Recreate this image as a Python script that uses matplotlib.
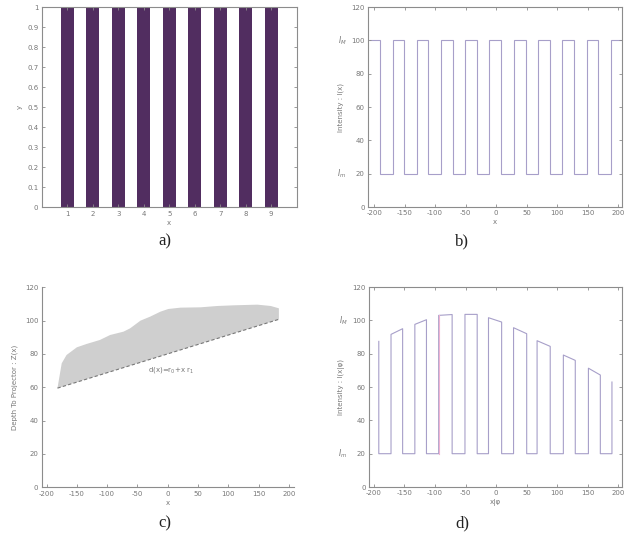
import matplotlib
matplotlib.use("Agg")
import matplotlib.pyplot as plt
import numpy as np

# a) bar pattern
a_x = [1, 2, 3, 4, 5, 6, 7, 8, 9]
a_y = [1, 1, 1, 1, 1, 1, 1, 1, 1]

# b) binary fringe, step edges and levels
b_edges = [-209, -191, -169.5, -151, -130, -111, -90, -71.5, -50.5, -31.5, -11,
           8, 29, 48, 68.5, 87.5, 108, 127.5, 148, 167, 187.5, 206]
b_levels = [100, 20, 100, 20, 100, 20, 100, 20, 100, 20, 100,
            20, 100, 20, 100, 20, 100, 20, 100, 20, 100]

# c) depth region: lower line and upper boundary
c_low_x = [-182, 183.5]
c_low_y = [59.5, 100.8]
c_up_x = [-182, -175, -167, -150, -134, -112, -95, -73, -62, -45, -29, -12, 1,
          21, 54, 82, 109, 148, 170, 183.5]
c_up_y = [59.5, 74.4, 79.4, 84, 86, 88.4, 91.4, 93.4, 95.4, 100, 102.4, 105.4, 107,
          107.8, 108, 108.8, 109.2, 109.6, 108.8, 107.4]

# d) deformed fringe: rise x, fall x, top at rise, top at fall
d_rise = [None, -172, -133, -94, -51, -12.5, 28.5, 67, 110, 151, 189.5]
d_fall = [-192, -153, -114, -72, -31, 9, 50, 88.5, 129.5, 170.5, None]
d_top0 = [87.4, 91.6, 97.6, 103, 103.6, 101.6, 95.6, 87.8, 79.2, 71.3, 63]
d_top1 = [87.4, 95, 100.4, 103.5, 103.6, 99, 92, 84.4, 76, 67.2, 63]
d_low = 20

tick_col = '#777777'
line_col = '#a79fc9'
spine_col = '#8c8c8c'
plt.rcParams['axes.unicode_minus'] = False


def style(ax, box=True):
    for s in ax.spines.values():
        s.set_color(spine_col)
        s.set_linewidth(0.8)
    if not box:
        ax.spines['top'].set_visible(False)
        ax.spines['right'].set_visible(False)
    ax.tick_params(direction='in', labelsize=5, colors=spine_col,
                   labelcolor=tick_col, length=2.5, width=0.6,
                   top=box, right=box, pad=2.5)


fig = plt.figure(figsize=(6.37, 5.5), dpi=100)

# a
ax = fig.add_axes([0.0655, 0.6231, 0.4003, 0.3636])
ax.bar(a_x, a_y, width=0.5, color='#512d60')
ax.set_xlim(0, 10)
ax.set_ylim(0, 1)
ax.set_xticks(a_x)
ax.set_yticks(np.arange(0, 1.01, 0.1))
ax.set_yticklabels(['0', '0.1', '0.2', '0.3', '0.4', '0.5', '0.6', '0.7', '0.8', '0.9', '1'])
ax.set_xlabel('x', fontsize=5, color=tick_col, labelpad=2)
ax.set_ylabel('y', fontsize=5, color=tick_col, labelpad=3)
style(ax)

xt = [-200, -150, -100, -50, 0, 50, 100, 150, 200]
yt = [0, 20, 40, 60, 80, 100, 120]

# b
ax = fig.add_axes([0.5777, 0.6236, 0.3987, 0.3636])
ax.stairs(b_levels, b_edges, baseline=None, color=line_col, lw=0.8)
ax.set_xlim(-210, 206)
ax.set_ylim(0, 120)
ax.set_xticks(xt)
ax.set_yticks(yt)
ax.set_xlabel('x', fontsize=5, color=tick_col, labelpad=2)
ax.set_ylabel('Intensity : I(x)', fontsize=5, color=tick_col, labelpad=5)
ax.text(-0.085, 100, '$I_M$', transform=ax.get_yaxis_transform(), fontsize=5.5,
        color=tick_col, ha='right', va='center')
ax.text(-0.085, 20, '$I_m$', transform=ax.get_yaxis_transform(), fontsize=5.5,
        color=tick_col, ha='right', va='center')
style(ax)

# c
ax = fig.add_axes([0.0655, 0.114, 0.3956, 0.3636])
poly_x = c_up_x + c_low_x[::-1]
poly_y = c_up_y + c_low_y[::-1]
ax.fill(poly_x, poly_y, color='#cfcfcf', lw=0)
ax.plot(c_low_x, c_low_y, color='#777777', lw=0.8, ls=(0, (3, 2)))
ax.text(5, 70.5, 'd(x)=r$_0$+x r$_1$', fontsize=5, color='#777777', ha='center', va='center')
ax.set_xlim(-208, 208)
ax.set_ylim(0, 120)
ax.set_xticks(xt)
ax.set_yticks(yt)
ax.set_xlabel('x', fontsize=5, color=tick_col, labelpad=2)
ax.set_ylabel('Depth To Projector : Z(x)', fontsize=5, color=tick_col, labelpad=5)
style(ax, box=False)

# d
ax = fig.add_axes([0.5793, 0.1145, 0.3972, 0.3636])
px, py = [], []
for r, f, t0, t1 in zip(d_rise, d_fall, d_top0, d_top1):
    if r is not None:
        px += [r, r]
        py += [d_low, t0]
    else:
        px.append(f)
        py.append(t0)
    if f is not None:
        px += [f, f]
        py += [t1, d_low]
ax.plot(px, py, color=line_col, lw=0.8)
ax.plot([d_rise[3], d_rise[3]], [d_low, d_top0[3]], color='#efb2d2', lw=0.8)
ax.set_xlim(-208, 206)
ax.set_ylim(0, 120)
ax.set_xticks(xt)
ax.set_yticks(yt)
ax.set_xlabel('x|φ', fontsize=5, color=tick_col, labelpad=2)
ax.set_ylabel('Intensity : I(x|φ)', fontsize=5, color=tick_col, labelpad=5)
ax.text(-0.085, 100, '$I_M$', transform=ax.get_yaxis_transform(), fontsize=5.5,
        color=tick_col, ha='right', va='center')
ax.text(-0.085, 20, '$I_m$', transform=ax.get_yaxis_transform(), fontsize=5.5,
        color=tick_col, ha='right', va='center')
style(ax)

# captions
for lab, x, y in [('a)', 165, 241), ('b)', 462, 241), ('c)', 165, 523), ('d)', 462, 523)]:
    fig.text(x / 637, 1 - y / 550, lab, fontsize=12, family='Liberation Serif',
             ha='center', va='center', color='#222222')

fig.savefig('out.png', dpi=100)
